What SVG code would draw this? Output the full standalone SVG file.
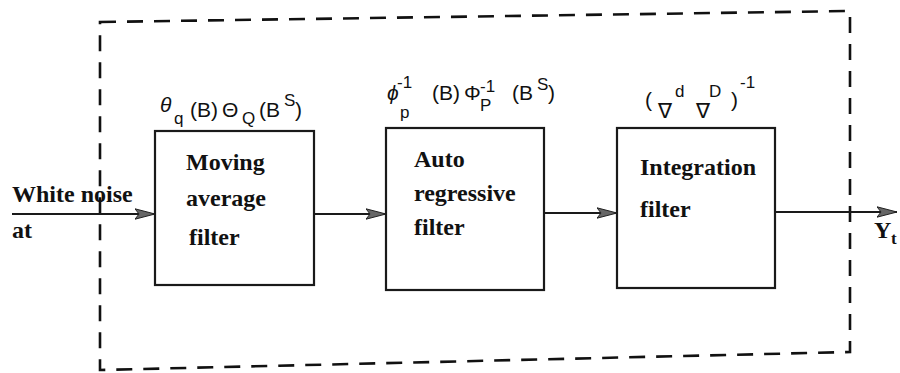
<svg xmlns="http://www.w3.org/2000/svg" width="900" height="373" viewBox="0 0 900 373">
<style>
  .box{fill:#fff;stroke:#1a1a1a;stroke-width:2.2}
  .frame{fill:none;stroke:#111;stroke-width:2.6;stroke-dasharray:16 11}
  .conn{fill:none;stroke:#1a1a1a;stroke-width:2.2}
  .lbl{font-family:"Liberation Serif","Times New Roman",serif;font-weight:bold;font-size:24px;fill:#111}
  .math{font-family:"Liberation Sans","DejaVu Sans",sans-serif;font-size:21px;fill:#111}
  .sm{font-size:17px}
  .it{font-style:italic}
</style>
<defs>
  <marker id="ah" viewBox="0 0 20 12" refX="20" refY="6" markerWidth="20" markerHeight="12" markerUnits="userSpaceOnUse" orient="auto">
    <path d="M0,0.8 L20,6 L0,11.2 L4,6 z" fill="#666" stroke="#222" stroke-width="1"/>
  </marker>
</defs>
<rect width="900" height="373" fill="#fff"/>
<path class="frame" d="M100,22 L850,11 L850,352 L100,370 Z"/>
<g id="connectors">
  <line class="conn" x1="12" y1="214" x2="155" y2="214" marker-end="url(#ah)"/>
  <line class="conn" x1="314" y1="214" x2="386" y2="214" marker-end="url(#ah)"/>
  <line class="conn" x1="544" y1="213" x2="617" y2="213" marker-end="url(#ah)"/>
  <line class="conn" x1="775" y1="212" x2="897" y2="212" marker-end="url(#ah)"/>
</g>
<g id="input">
  <text class="lbl" x="12" y="202">White noise</text>
  <text class="lbl" x="12" y="238">at</text>
</g>
<g id="output">
  <text class="lbl" x="874" y="238">Y</text>
  <text class="lbl sm" x="891" y="244">t</text>
</g>
<g id="ma">
  <rect class="box" x="155" y="131" width="159" height="154"/>
  <text class="lbl" x="186" y="170">Moving</text>
  <text class="lbl" x="186" y="206">average</text>
  <text class="lbl" x="189" y="245">filter</text>
  <text class="math">
    <tspan class="it" x="160" y="112">θ</tspan>
    <tspan class="sm" x="174" y="124">q</tspan>
    <tspan x="190" y="117">(B)</tspan>
    <tspan x="222" y="117">Θ</tspan>
    <tspan class="sm" x="242" y="124">Q</tspan>
    <tspan x="259" y="117">(B</tspan>
    <tspan class="sm" x="284" y="106">S</tspan>
    <tspan x="295" y="117">)</tspan>
  </text>
</g>
<g id="ar">
  <rect class="box" x="386" y="128" width="158" height="162"/>
  <text class="lbl" x="414" y="167">Auto</text>
  <text class="lbl" x="414" y="201">regressive</text>
  <text class="lbl" x="414" y="235">filter</text>
  <text class="math">
    <tspan class="it" x="387" y="100">ϕ</tspan>
    <tspan class="sm" x="397" y="88">-1</tspan>
    <tspan class="sm" x="400" y="118">p</tspan>
    <tspan x="432" y="100">(B)</tspan>
    <tspan x="464" y="100">Φ</tspan>
    <tspan class="sm" x="480" y="92">-1</tspan>
    <tspan class="sm" x="480" y="111">P</tspan>
    <tspan x="512" y="100">(B</tspan>
    <tspan class="sm" x="537" y="90">S</tspan>
    <tspan x="548" y="100">)</tspan>
  </text>
</g>
<g id="int">
  <rect class="box" x="617" y="128" width="158" height="160"/>
  <text class="lbl" x="640" y="175">Integration</text>
  <text class="lbl" x="640" y="217">filter</text>
  <text class="math">
    <tspan x="645" y="107">(</tspan>
    <tspan x="658" y="118">∇</tspan>
    <tspan class="sm" x="675" y="97">d</tspan>
    <tspan x="696" y="118">∇</tspan>
    <tspan class="sm" x="709" y="97">D</tspan>
    <tspan x="731" y="107">)</tspan>
    <tspan class="sm" x="740" y="88">-1</tspan>
  </text>
</g>
</svg>
